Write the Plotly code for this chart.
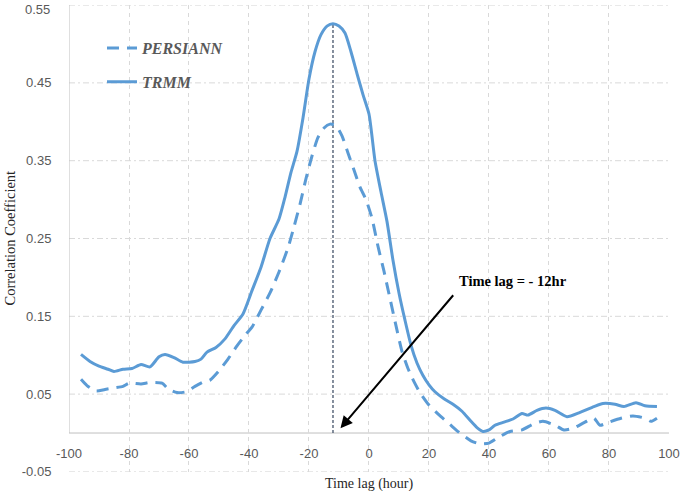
import plotly.graph_objects as go

# ---- data ----
trmm_x = [-96, -93, -90, -87, -85, -82, -79, -76, -73, -70, -68, -65, -62, -58, -56, -54, -51, -48, -45, -42,
          -39, -36, -33, -30, -28, -26, -24, -22, -20, -18, -16, -14, -12, -10, -8, -6, -4, -2, 0, 2,
          4, 6, 8, 10, 12, 14, 16, 18, 20, 22, 25, 28, 31, 34, 36, 38, 40, 42, 45, 48,
          51, 53, 56, 59, 62, 66, 70, 75, 78, 82, 85, 89, 92, 96]
trmm_y = [0.101, 0.092, 0.086, 0.082, 0.079, 0.082, 0.083, 0.088, 0.085, 0.098, 0.101, 0.097, 0.091, 0.092, 0.095, 0.104, 0.110, 0.121, 0.138, 0.153,
          0.183, 0.213, 0.250, 0.275, 0.303, 0.335, 0.362, 0.405, 0.455, 0.490, 0.512, 0.523, 0.526, 0.523, 0.514, 0.490, 0.462, 0.435, 0.410, 0.350,
          0.310, 0.272, 0.222, 0.180, 0.145, 0.113, 0.090, 0.074, 0.062, 0.053, 0.044, 0.037, 0.028, 0.015, 0.007, 0.002, 0.004, 0.010, 0.014, 0.018,
          0.025, 0.023, 0.029, 0.032, 0.029, 0.021, 0.026, 0.034, 0.038, 0.037, 0.034, 0.039, 0.035, 0.034]

pers_x = [-96, -94, -91, -88, -85, -82, -80, -76, -73, -69, -67, -64, -61, -58, -55, -53, -50, -47, -44, -41,
          -39, -36, -33, -30, -27, -25, -23, -21, -19, -17, -15, -13, -11, -9, -7, -5, -3, -1, 1, 3,
          5, 7, 9, 11, 13, 15, 17, 20, 24, 27, 30, 34, 37, 40, 43, 47, 51, 55, 58, 62,
          65, 68, 72, 75, 77, 80, 84, 88, 92, 94, 96]
pers_y = [0.069, 0.061, 0.054, 0.056, 0.058, 0.060, 0.064, 0.063, 0.065, 0.064, 0.057, 0.052, 0.053, 0.060, 0.066, 0.068, 0.080, 0.095, 0.112, 0.127,
          0.136, 0.158, 0.180, 0.207, 0.238, 0.265, 0.294, 0.327, 0.356, 0.380, 0.392, 0.397, 0.395, 0.382, 0.360, 0.338, 0.316, 0.300, 0.276, 0.240,
          0.208, 0.173, 0.138, 0.105, 0.083, 0.066, 0.052, 0.036, 0.021, 0.011, 0.001, -0.010, -0.014, -0.013, -0.006, 0.002, 0.004, 0.012, 0.015, 0.010,
          0.004, 0.006, 0.014, 0.019, 0.010, 0.014, 0.019, 0.022, 0.019, 0.015, 0.019]

x_ticks = [-100, -80, -60, -40, -20, 0, 20, 40, 60, 80, 100]
y_ticks = [-0.05, 0.05, 0.15, 0.25, 0.35, 0.45, 0.55]
y_tick_text = ["-0.05", "0.05", "0.15", "0.25", "0.35", "0.45", "0.55"]

peak_lag = -12
annot_text = "Time lag = - 12hr"

blue = "#5B9BD5"
grid = "#D9D9D9"
axis_gray = "#BFBFBF"
tick_font = dict(family="Liberation Sans", size=13, color="#595959")

fig = go.Figure()
fig.add_trace(go.Scatter(x=pers_x, y=pers_y, mode="lines", name="PERSIANN", legendgroup="a",
                         line=dict(color=blue, width=3, dash="12px,8px", shape="spline", smoothing=0.6)))
fig.add_trace(go.Scatter(x=trmm_x, y=trmm_y, mode="lines", name="TRMM", legendgroup="b",
                         line=dict(color=blue, width=3, shape="spline", smoothing=0.6)))

# horizontal dash-dot gridlines at tick values
for yv in y_ticks:
    fig.add_shape(type="line", x0=x_ticks[0], x1=x_ticks[-1], y0=yv, y1=yv, xref="x", yref="y",
                  line=dict(color=grid, width=1, dash="6px,3px,2px,3px"), layer="below")
# zero axis line
fig.add_shape(type="line", x0=x_ticks[0], x1=x_ticks[-1], y0=0, y1=0, xref="x", yref="y",
              line=dict(color=axis_gray, width=1), layer="below")
# left axis line above zero
fig.add_shape(type="line", x0=x_ticks[0], x1=x_ticks[0], y0=0, y1=y_ticks[-1], xref="x", yref="y",
              line=dict(color=axis_gray, width=1), layer="below")
# vertical dashed line at the peak lag
fig.add_shape(type="line", x0=peak_lag, x1=peak_lag, y0=0, y1=max(trmm_y), xref="x", yref="y",
              line=dict(color="#44546A", width=1.3, dash="3px,2px"), layer="below")

# top tick label (plotly drops it at the very edge of the figure)
fig.add_annotation(x=0, y=y_ticks[-1], xref="paper", yref="y", xanchor="right", yanchor="top",
                   xshift=-17, yshift=5, text=y_tick_text[-1], showarrow=False, font=tick_font)

# arrow
fig.add_annotation(x=-9.5, y=0.006, ax=28.5, ay=0.179, xref="x", yref="y", axref="x", ayref="y",
                   text="", showarrow=True, arrowhead=2, arrowsize=1.2, arrowwidth=2, arrowcolor="black")
fig.add_annotation(x=29.5, y=0.195, xref="x", yref="y", text=annot_text, showarrow=False,
                   xanchor="left", yanchor="middle",
                   font=dict(family="Liberation Serif", size=14.5, color="black", weight="bold"))

# axis titles
fig.add_annotation(x=0, y=0, xref="x", yref="paper", yshift=-2, text="Time lag (hour)", showarrow=False,
                   yanchor="top", font=dict(family="Liberation Serif", size=14, color="#262626"))
fig.add_annotation(x=0, y=0.5, xref="paper", yref="paper", xshift=-60, text="Correlation Coefficient",
                   showarrow=False, textangle=-90, xanchor="center",
                   font=dict(family="Liberation Serif", size=14.5, color="#262626"))

fig.update_layout(
    width=685, height=491,
    margin=dict(l=69, r=13, t=5, b=19),
    paper_bgcolor="white", plot_bgcolor="white",
    showlegend=True,
    legend=dict(x=0.055, y=0.944, xanchor="left", yanchor="top", bgcolor="rgba(0,0,0,0)",
                tracegroupgap=10, traceorder="grouped",
                font=dict(family="Liberation Serif", size=16, color="#595959", style="italic", weight="bold")),
    xaxis=dict(range=[-100, 100.01], tickvals=x_ticks, ticktext=[str(v) for v in x_ticks],
               showgrid=True, gridcolor=grid, griddash="4px,4px", gridwidth=1,
               zeroline=False, showline=False, anchor="free", position=0.05 / 0.6,
               ticks="outside", ticklen=8, tickcolor="rgba(0,0,0,0)", tickfont=tick_font),
    yaxis=dict(range=[-0.0501, 0.5501], tickvals=y_ticks[:-1], ticktext=y_tick_text[:-1],
               showgrid=False, zeroline=False, showline=False,
               ticks="outside", ticklen=14, tickcolor="rgba(0,0,0,0)", tickfont=tick_font),
)

fig.write_html("out.html", config={"displayModeBar": False},
               post_script="document.body.style.margin='0';")
